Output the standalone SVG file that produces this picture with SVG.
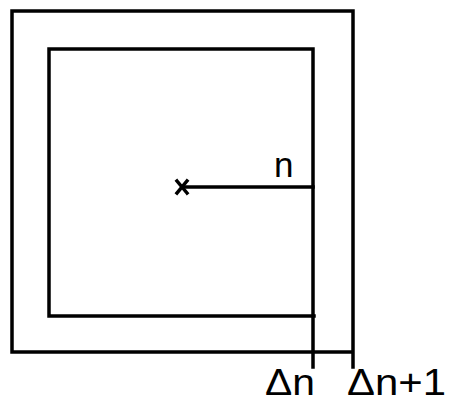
<svg xmlns="http://www.w3.org/2000/svg" width="449" height="403" viewBox="0 0 449 403">
<style>
.ln{fill:none;stroke:#000;stroke-width:3.5;stroke-linecap:square}
.t{font-family:"Liberation Sans",Arial,sans-serif;fill:#000}
</style>
<rect width="449" height="403" fill="#fff"/>
<g id="outer">
<path class="ln" d="M12,11 H353 V367 M12,11 V352 H353"/>
</g>
<g id="inner">
<path class="ln" d="M49,49 H313 V367 M49,49 V316 H314"/>
</g>
<g id="connectors">
<path class="ln" d="M184,187 H313"/>
<path class="ln" d="M177,181 L187,193 M187,181 L177,193" stroke-width="2.8"/>
</g>
<g id="labels">
<text class="t" x="274" y="177" font-size="35">n</text>
<text class="t" x="265" y="395" font-size="37" textLength="50" lengthAdjust="spacingAndGlyphs">Δn</text>
<text class="t" x="347" y="395" font-size="37" textLength="99" lengthAdjust="spacingAndGlyphs">Δn+1</text>
</g>
</svg>
